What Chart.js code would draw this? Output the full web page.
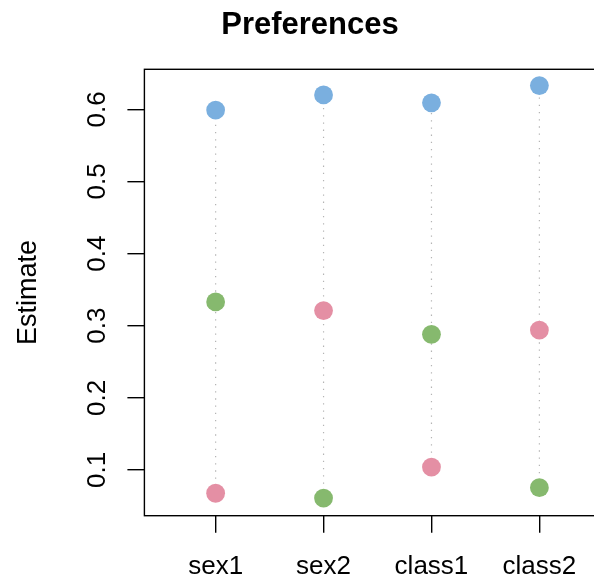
<!DOCTYPE html>
<html>
<head>
<meta charset="utf-8">
<script src="https://cdn.jsdelivr.net/npm/chart.js@4.4.1/dist/chart.umd.min.js"></script>
<style>
  html, body { margin: 0; padding: 0; background: #fff; }
  #wrap { width: 594px; height: 579px; }
</style>
</head>
<body>
<div id="wrap"><canvas id="chart_canvas" width="594" height="579"></canvas></div>
<script>
// ============================================================
// Data
// ============================================================
var categories = ["sex1", "sex2", "class1", "class2"];
var blueValues  = [0.599, 0.620, 0.609, 0.633];
var greenValues = [0.333, 0.061, 0.288, 0.0755];
var pinkValues  = [0.0677, 0.321, 0.104, 0.294];
var yTickValues = [0.1, 0.2, 0.3, 0.4, 0.5, 0.6];

var FONT = "'Liberation Sans', Arial, Helvetica, sans-serif";

function toPoints(arr) {
	return arr.map(function (v, i) { return { x: i + 1, y: v }; });
}

// ============================================================
// Dotted connector for each category (min to max of its dots)
// ============================================================
var datasets = [];
categories.forEach(function (c, i) {
	var vals = [blueValues[i], greenValues[i], pinkValues[i]];
	datasets.push({
		label: c,
		data: [{ x: i + 1, y: Math.min.apply(null, vals) }, { x: i + 1, y: Math.max.apply(null, vals) }],
		showLine: true,
		borderColor: "#b4b4b4",
		borderWidth: 1.2,
		borderDash: [1.3, 5.9],
		pointRadius: 0,
		order: 2
	});
});
[[blueValues, "#7aafdf"], [greenValues, "#86b96e"], [pinkValues, "#e48fa4"]].forEach(function (s) {
	datasets.push({
		data: toPoints(s[0]),
		backgroundColor: s[1],
		borderWidth: 0,
		pointRadius: 9.4,
		pointHoverRadius: 9.4,
		showLine: false,
		order: 0
	});
});

// ============================================================
// Box around the plot + rotated y tick labels (R style)
// ============================================================
var framePlugin = {
	id: "frame",
	afterDraw: function (chart) {
		var ctx = chart.ctx, a = chart.chartArea, ys = chart.scales.y;
		ctx.save();
		ctx.strokeStyle = "#000";
		ctx.lineWidth = 1.4;
		ctx.strokeRect(a.left, a.top, a.right - a.left + 5, a.bottom - a.top);
		ctx.fillStyle = "#000";
		ctx.font = "26px " + FONT;
		ctx.textAlign = "center";
		ctx.textBaseline = "alphabetic";
		ys.ticks.forEach(function (t) {
			var py = ys.getPixelForValue(t.value);
			ctx.save();
			ctx.translate(a.left - 39.5, py);
			ctx.rotate(-Math.PI / 2);
			ctx.fillText(t.value.toFixed(1), 0, 0);
			ctx.restore();
		});
		ctx.restore();
	}
};

new Chart(document.getElementById("chart_canvas"), {
	type: "scatter",
	data: { datasets: datasets },
	plugins: [framePlugin],
	options: {
		responsive: false,
		animation: false,
		events: [],
		layout: { autoPadding: false, padding: { left: 26, right: 0, top: 0, bottom: 0 } },
		plugins: {
			legend: { display: false },
			tooltip: { enabled: false },
			title: {
				display: true,
				text: "Preferences",
				color: "#000",
				font: { family: FONT, size: 31, weight: "bold", lineHeight: 1.2 },
				padding: { top: 6.6, bottom: 25.5 }
			}
		},
		scales: {
			x: {
				type: "linear",
				min: 0.34,
				max: 4.506,
				afterBuildTicks: function (s) {
					s.ticks = categories.map(function (c, i) { return { value: i + 1 }; });
				},
				afterFit: function (s) {
					s.height = 63.3;
					s.paddingLeft = 0;
					s.paddingRight = 0;
				},
				border: { display: false },
				grid: { drawOnChartArea: false, drawTicks: true, tickLength: 17, color: "#000", lineWidth: 1.4 },
				ticks: {
					color: "#000",
					font: { family: FONT, size: 26 },
					padding: 19,
					maxRotation: 0,
					minRotation: 0,
					callback: function (v) { return categories[Math.round(v) - 1]; }
				}
			},
			y: {
				min: 0.0366,
				max: 0.6555,
				afterBuildTicks: function (s) {
					s.ticks = yTickValues.map(function (v) { return { value: v }; });
				},
				afterFit: function (s) {
					s.width = 118.4;
					s.paddingTop = 0;
					s.paddingBottom = 0;
				},
				border: { display: false },
				grid: { drawOnChartArea: false, drawTicks: true, tickLength: 17, color: "#000", lineWidth: 1.4 },
				ticks: { display: false },
				title: {
					display: true,
					text: "Estimate",
					color: "#000",
					font: { family: FONT, size: 27, lineHeight: 1.2 },
					padding: { top: -13.2, bottom: 0 }
				}
			}
		}
	}
});
</script>
</body>
</html>
